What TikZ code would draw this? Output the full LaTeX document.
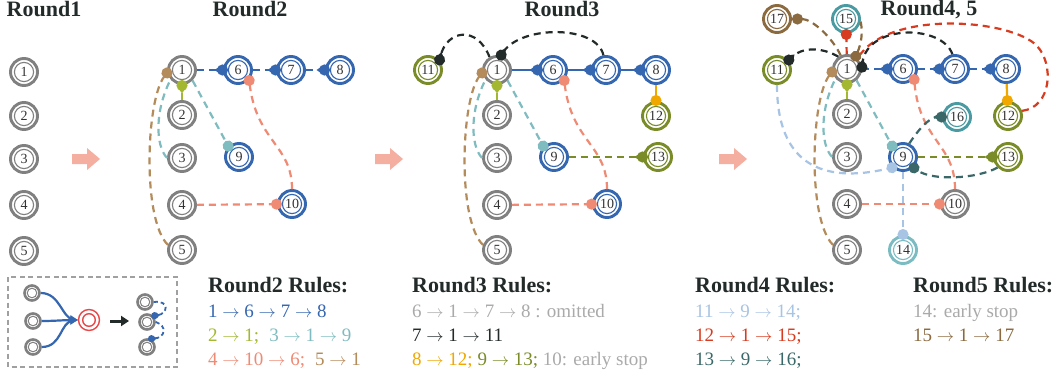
\documentclass[tikz,border=0pt]{standalone}
\usepackage{fontspec}
\setmainfont{Liberation Serif}
\usetikzlibrary{arrows.meta}
\definecolor{ringgray}{HTML}{808080}
\definecolor{cblue}{HTML}{3566B0}
\definecolor{colive}{HTML}{7A8C28}
\definecolor{cteal}{HTML}{4A9AA2}
\definecolor{clteal}{HTML}{7ABCC2}
\definecolor{cbrown}{HTML}{8B6A40}
\definecolor{cyg}{HTML}{A3B830}
\definecolor{cteal2}{HTML}{7FBCC0}
\definecolor{csalmon}{HTML}{EF8A74}
\definecolor{ctan}{HTML}{B48C5C}
\definecolor{cgraytext}{HTML}{AAAAAA}
\definecolor{cblack}{HTML}{232A2A}
\definecolor{cgold}{HTML}{F0A800}
\definecolor{clblue}{HTML}{A8C4E4}
\definecolor{cred}{HTML}{D83C20}
\definecolor{cdteal}{HTML}{3A6868}
\definecolor{cpink}{HTML}{F4AFA0}
\definecolor{txt}{HTML}{333333}
\definecolor{lred}{HTML}{E84848}
\definecolor{boxgray}{HTML}{A0A0A0}
\tikzset{
  rn/.style={circle, draw=#1, line width=2.9pt, minimum size=27pt, inner sep=0pt, fill=white, text=txt,
    font=\fontsize{14}{14}\selectfont,
    path picture={\draw[#1, line width=1.1pt] (path picture bounding box.center) circle[radius=9.6pt];}},
  sn/.style={circle, draw=ringgray, line width=2.6pt, minimum size=15pt, inner sep=0pt, fill=white,
    path picture={\draw[ringgray, line width=1pt] (path picture bounding box.center) circle[radius=4.8pt];}},
  redn/.style={circle, draw=lred, line width=1.4pt, minimum size=21pt, inner sep=0pt, fill=white,
    path picture={\draw[lred, line width=1.4pt] (path picture bounding box.center) circle[radius=6.3pt];}},
  lnk/.style={line width=2.2pt, dash pattern=on 7pt off 5pt, draw=#1},
  sol/.style={line width=2.2pt, draw=#1},
  dotend/.style={-{Circle[length=11pt]}, shorten >=-5pt},
  pinend/.style={-{Triangle[reversed,length=6pt,width=8pt,sep=-3.5pt]Circle[length=11pt]}, shorten >=-5pt},
  spinend/.style={-{Triangle[reversed,length=4pt,width=5pt,sep=-2pt]Circle[length=7pt]}, shorten >=-2pt},
  ttl/.style={anchor=base, inner sep=0pt, text=cblack, text height=15pt, text depth=0pt, font=\fontsize{22}{24}\selectfont\bfseries},
  hdr/.style={anchor=base west, inner sep=0pt, text=cblack, text height=15pt, text depth=0pt, font=\fontsize{22}{24}\selectfont\bfseries},
  rl/.style={anchor=base west, inner sep=0pt, text height=14pt, text depth=3.5pt, font=\fontsize{19}{22}\selectfont},
  lgarrow/.style={line width=2.2pt, draw=cblue, -{Stealth[length=8pt,width=8pt]}},
}
\newcommand{\ar}{$\rightarrow$}
\newcommand{\pinkarrow}[1]{\fill[cpink] (#1,154) -- (#1+15,154) -- (#1+15,148) -- (#1+28,159) -- (#1+15,170) -- (#1+15,164) -- (#1,164) -- cycle;}
\begin{document}
\begin{tikzpicture}[x=1pt,y=-1pt]
\useasboundingbox[fill=white] (0,0) rectangle (1062,377);

% titles
\node[ttl] (t1) at (44,17) {Round1};
\node[ttl] (t2) at (250,17) {Round2};
\node[ttl] (t3) at (562,17) {Round3};
\node[ttl] (t4) at (929,16) {Round4, 5};

% pink arrows
\pinkarrow{72}
\pinkarrow{375}
\pinkarrow{719}

% Round 1
\node[rn=ringgray] (R1) at (24,72) {1};
\node[rn=ringgray] (R2) at (24,116) {2};
\node[rn=ringgray] (R3) at (24,159) {3};
\node[rn=ringgray] (R4) at (24,205) {4};
\node[rn=ringgray] (R5) at (24,251) {5};

% Round 2
\begin{scope}[shift={(182,70)}]
\node[rn=ringgray] (A1) at (0,0) {1};
\node[rn=ringgray] (A2) at (0,45) {2};
\node[rn=ringgray] (A3) at (0,88) {3};
\node[rn=ringgray] (A4) at (0,135) {4};
\node[rn=ringgray] (A5) at (0,180) {5};
\node[rn=cblue] (A6) at (56,0) {6};
\node[rn=cblue] (A7) at (109,0) {7};
\node[rn=cblue] (A8) at (158,0) {8};
\node[rn=cblue] (A9) at (57,87) {9};
\node[rn=cblue] (A10) at (110,134) {10};
\draw[lnk=cblue, pinend] (A1) -- (A6);
\draw[lnk=cblue, pinend] (A6) -- (A7);
\draw[lnk=cblue, pinend] (A7) -- (A8);
\draw[lnk=cteal2] (A3.180) .. controls (-27,75) and (-27,40) .. (A1.-140);
\draw[lnk=ctan, dotend] (A5.160) .. controls (-40,150) and (-36,30) .. (A1.190);
\draw[lnk=cyg, pinend] (A2) -- (A1);
\draw[lnk=cteal2, dotend] (A1.-45) -- (A9.135);
\draw[lnk=csalmon, dotend] (A4) -- (A10);
\draw[lnk=csalmon, dotend] (A10.90) .. controls (110,75) and (75,72) .. (A6.-42);
\end{scope}

% Round 3
\begin{scope}[shift={(497,70)}]
\node[rn=ringgray] (B1) at (0,0) {1};
\node[rn=ringgray] (B2) at (0,45) {2};
\node[rn=ringgray] (B3) at (0,88) {3};
\node[rn=ringgray] (B4) at (0,135) {4};
\node[rn=ringgray] (B5) at (0,180) {5};
\node[rn=cblue] (B6) at (56,0) {6};
\node[rn=cblue] (B7) at (109,0) {7};
\node[rn=cblue] (B8) at (159,0) {8};
\node[rn=cblue] (B9) at (57,87) {9};
\node[rn=cblue] (B10) at (110,134) {10};
\node[rn=colive] (B11) at (-69,0) {11};
\node[rn=colive] (B12) at (159,46) {12};
\node[rn=colive] (B13) at (161,87) {13};
\draw[sol=cblue, pinend] (B1) -- (B6);
\draw[sol=cblue, pinend] (B6) -- (B7);
\draw[sol=cblue, pinend] (B7) -- (B8);
\draw[lnk=cteal2] (B3.180) .. controls (-27,75) and (-27,40) .. (B1.-140);
\draw[lnk=ctan, dotend] (B5.160) .. controls (-40,150) and (-36,30) .. (B1.190);
\draw[lnk=cyg, pinend] (B2) -- (B1);
\draw[lnk=cteal2, dotend] (B1.-45) -- (B9.135);
\draw[lnk=csalmon, dotend] (B4) -- (B10);
\draw[lnk=csalmon, dotend] (B10.90) .. controls (110,75) and (75,72) .. (B6.-42);
\draw[lnk=cblack, pinend] (B7.100) .. controls (100,-45) and (25,-45) .. (B1.75);
\draw[lnk=cblack, pinend] (B1.120) .. controls (-20,-45) and (-50,-40) .. (B11.40);
\draw[sol=cgold, dotend] (B8) -- (B12);
\draw[lnk=colive, pinend] (B9) -- (B13);
\end{scope}

% Round 4, 5
\begin{scope}[shift={(847,69)}]
\node[rn=ringgray] (C1) at (0,0) {1};
\node[rn=ringgray] (C2) at (0,45) {2};
\node[rn=ringgray] (C3) at (0,88) {3};
\node[rn=ringgray] (C4) at (0,135) {4};
\node[rn=ringgray] (C5) at (0,181) {5};
\node[rn=cblue] (C6) at (56,0) {6};
\node[rn=cblue] (C7) at (108,0) {7};
\node[rn=cblue] (C8) at (159,0) {8};
\node[rn=cblue] (C9) at (56,88) {9};
\node[rn=ringgray] (C10) at (108,135) {10};
\node[rn=colive] (C11) at (-70,1) {11};
\node[rn=colive] (C12) at (161,47) {12};
\node[rn=colive] (C13) at (161,88) {13};
\node[rn=clteal] (C14) at (56,181) {14};
\node[rn=cteal] (C15) at (-1,-50) {15};
\node[rn=cteal] (C16) at (110,48) {16};
\node[rn=cbrown] (C17) at (-70,-50) {17};
\draw[lnk=cblue, pinend] (C1) -- (C6);
\draw[lnk=cblue, pinend] (C6) -- (C7);
\draw[lnk=cblue, pinend] (C7) -- (C8);
\draw[lnk=cteal2] (C3.180) .. controls (-27,75) and (-27,40) .. (C1.-140);
\draw[lnk=ctan, dotend] (C5.160) .. controls (-40,150) and (-36,30) .. (C1.190);
\draw[lnk=cyg, pinend] (C2) -- (C1);
\draw[lnk=cteal2, dotend] (C1.-50) -- (C9.135);
\draw[lnk=csalmon, dotend] (C4) -- (C10);
\draw[lnk=csalmon, dotend] (C10.90) .. controls (108,75) and (73,72) .. (C6.-42);
\draw[sol=cgold, dotend] (C8) -- (C12);
\draw[lnk=colive, pinend] (C9) -- (C13);
\draw[lnk=clblue, dotend] (C11.-90) .. controls (-70,95) and (-25,115) .. (C9.-135);
\draw[lnk=clblue, dotend] (C9) -- (C14);
\draw[lnk=cred] (C12.20) .. controls (205,38) and (207,-5) .. (190,-23)
   .. controls (165,-50) and (40,-60) .. (C1.45);
\draw[lnk=cred, dotend] (C1) -- (C15);
\draw[lnk=cdteal, dotend] (C13.-135) .. controls (130,110) and (85,112) .. (C9.-45);
\draw[lnk=cdteal, pinend] (C9.65) .. controls (75,55) and (85,48) .. (C16.180);
\draw[lnk=cblack, pinend] (C7.100) .. controls (95,-45) and (20,-45) .. (C1.5);
\draw[lnk=cblack, pinend] (C1.125) .. controls (-25,-22) and (-45,-22) .. (C11.40);
\draw[lnk=cbrown, dotend] (C15.-10) .. controls (16,-35) and (14,-25) .. (C1.55);
\draw[lnk=cbrown, dotend, shorten >=0pt] (C1.115) .. controls (-15,-32) and (-35,-50) .. (C17.0);
\end{scope}

% legend
\draw[boxgray, line width=1.6pt, dash pattern=on 5pt off 3.5pt] (8,277) rectangle (177,367);
\node[sn] (L1) at (32,293) {};
\node[sn] (L2) at (33,321) {};
\node[sn] (L3) at (33,347) {};
\node[redn] (LR) at (89,320) {};
\draw[lgarrow] (L1.0) .. controls (60,293) and (62,318) .. (LR.180);
\draw[lgarrow] (L2.0) .. controls (55,321) and (65,320) .. (LR.180);
\draw[lgarrow] (L3.0) .. controls (62,347) and (60,322) .. (LR.180);
\coordinate (K1) at (110,321);
\coordinate (K2) at (129,321);
\draw[line width=3pt, cblack, -{Triangle[length=8pt,width=10pt]}] (K1) -- (K2);
\node[sn] (M1) at (145,302) {};
\node[sn] (M2) at (147,322) {};
\node[sn] (M3) at (147,347) {};
\draw[cblue, line width=1.8pt, dash pattern=on 4pt off 3pt, spinend] (M1.0) .. controls (170,300) and (168,314) .. (M2.45);
\draw[cblue, line width=1.8pt, dash pattern=on 4pt off 3pt, spinend] (M2.0) .. controls (168,326) and (165,338) .. (M3.70);

% rules
\node[hdr] (h2) at (208,292) {Round2 Rules:};
\node[rl, text=cblue] (r21) at (208,317) {1 \ar{} 6 \ar{} 7 \ar{} 8};
\node[rl] (r22) at (208,341) {\textcolor{cyg}{2 \ar{} 1;}\hspace{10pt}\textcolor{cteal2}{3 \ar{} 1 \ar{} 9}};
\node[rl] (r23) at (208,365) {\textcolor{csalmon}{4 \ar{} 10 \ar{} 6;}\hspace{10pt}\textcolor{ctan}{5 \ar{} 1}};

\node[hdr] (h3) at (412,292) {Round3 Rules:};
\node[rl, text=cgraytext] (r31) at (412,317) {6 \ar{} 1 \ar{} 7 \ar{} 8 : omitted};
\node[rl, text=cblack] (r32) at (412,341) {7 \ar{} 1 \ar{} 11};
\node[rl] (r33) at (412,365) {\textcolor{cgold}{8 \ar{} 12;} \textcolor{colive}{9 \ar{} 13;} \textcolor{cgraytext}{10: early stop}};

\node[hdr] (h4) at (695,292) {Round4 Rules:};
\node[rl, text=clblue] (r41) at (695,317) {11 \ar{} 9 \ar{} 14;};
\node[rl, text=cred] (r42) at (695,341) {12 \ar{} 1 \ar{} 15;};
\node[rl, text=cdteal] (r43) at (695,365) {13 \ar{} 9 \ar{} 16;};

\node[hdr] (h5) at (913,292) {Round5 Rules:};
\node[rl, text=cgraytext] (r51) at (913,317) {14: early stop};
\node[rl, text=cbrown] (r52) at (913,341) {15 \ar{} 1 \ar{} 17};
\end{tikzpicture}
\end{document}
